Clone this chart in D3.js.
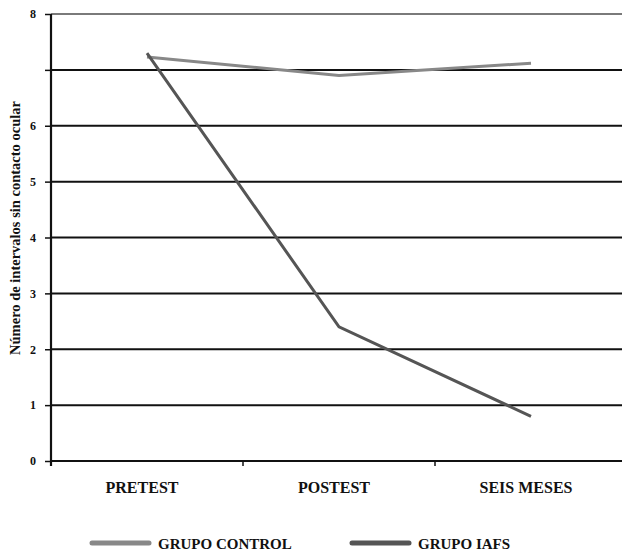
<!DOCTYPE html>
<html><head><meta charset="utf-8">
<script src="https://cdn.jsdelivr.net/npm/d3@7"></script>
<style>body{margin:0;background:#fff;} svg{display:block;}</style>
</head><body>
<svg id="c" width="622" height="551"></svg>
<script>
const categories = ["PRETEST", "POSTEST", "SEIS MESES"];
const controlValues = [7.23, 6.9, 7.12];
const iafsValues = [7.3, 2.4, 0.8];
const yTickValues = [0, 1, 2, 3, 4, 5, 6, 7, 8];
const yTickLabels = ["0", "1", "2", "3", "4", "5", "6", "", "8"];
const seriesNames = ["GRUPO CONTROL", "GRUPO IAFS"];
const yTitle = "Número de intervalos sin contacto ocular";

const FONT = '"Liberation Serif", "Times New Roman", serif';
const svg = d3.select("#c");
const mLeft = 51, mRight = 627, mTop = 14, mBottom = 461;
const x = d3.scaleBand().domain(categories).range([mLeft, mRight]);
const y = d3.scaleLinear().domain([0, 8]).range([mBottom, mTop]);

// gridlines
svg.append("g").selectAll("line").data(yTickValues).join("line")
  .attr("x1", mLeft).attr("x2", mRight)
  .attr("y1", d => y(d)).attr("y2", d => y(d))
  .attr("stroke", d => d === 8 ? "#7a7a7a" : "#111")
  .attr("stroke-width", 2);

// y axis
const yAxis = d3.axisLeft(y).tickValues(yTickValues)
  .tickFormat((d, i) => yTickLabels[i]).tickSize(6).tickPadding(9);
const gy = svg.append("g").attr("transform", `translate(${mLeft},0)`).call(yAxis);
gy.select(".domain").attr("stroke", "#111").attr("stroke-width", 2.2)
  .attr("d", `M0,${mTop}V${mBottom + 5}`);
gy.selectAll(".tick line").attr("stroke", "#111").attr("stroke-width", 1.5);
gy.selectAll(".tick text").style("font-family", FONT).style("font-size", "12px")
  .style("font-weight", "bold").attr("fill", "#111");

// x axis ticks at band boundaries
const gx = svg.append("g").attr("transform", `translate(0,${mBottom})`);
const bounds = categories.map(c => x(c)).slice(1);
gx.selectAll("line").data(bounds).join("line")
  .attr("x1", d => d).attr("x2", d => d).attr("y1", 0).attr("y2", 5)
  .attr("stroke", "#111").attr("stroke-width", 1.5);
gx.selectAll("text").data(categories).join("text")
  .attr("x", d => x(d) + x.bandwidth() / 2 - 5).attr("y", 32)
  .attr("text-anchor", "middle").style("font-family", FONT).style("font-size", "16px")
  .style("font-weight", "bold").attr("fill", "#111").text(d => d);

// y title
svg.append("text")
  .attr("transform", `translate(20,228) rotate(-90)`)
  .attr("text-anchor", "middle").style("font-family", FONT).style("font-size", "14.5px")
  .style("font-weight", "bold").attr("fill", "#111").text(yTitle);

// lines
const line = d3.line().x((d, i) => x(categories[i]) + x.bandwidth() / 2).y(d => y(d));
svg.append("path").datum(controlValues).attr("d", line)
  .attr("fill", "none").attr("stroke", "#888").attr("stroke-width", 3);
svg.append("path").datum(iafsValues).attr("d", line)
  .attr("fill", "none").attr("stroke", "#555").attr("stroke-width", 3);

// legend
const legendColors = ["#888", "#555"];
const legendX = [92, 352];
const lg = svg.append("g");
seriesNames.forEach((name, i) => {
  lg.append("line").attr("x1", legendX[i]).attr("x2", legendX[i] + 57)
    .attr("y1", 543).attr("y2", 543).attr("stroke", legendColors[i])
    .attr("stroke-width", 5).attr("stroke-linecap", "round");
  lg.append("text").attr("x", legendX[i] + 66).attr("y", 549)
    .style("font-family", FONT).style("font-size", "15px")
    .style("font-weight", "bold").attr("fill", "#111").text(name);
});
</script>
</body></html>
